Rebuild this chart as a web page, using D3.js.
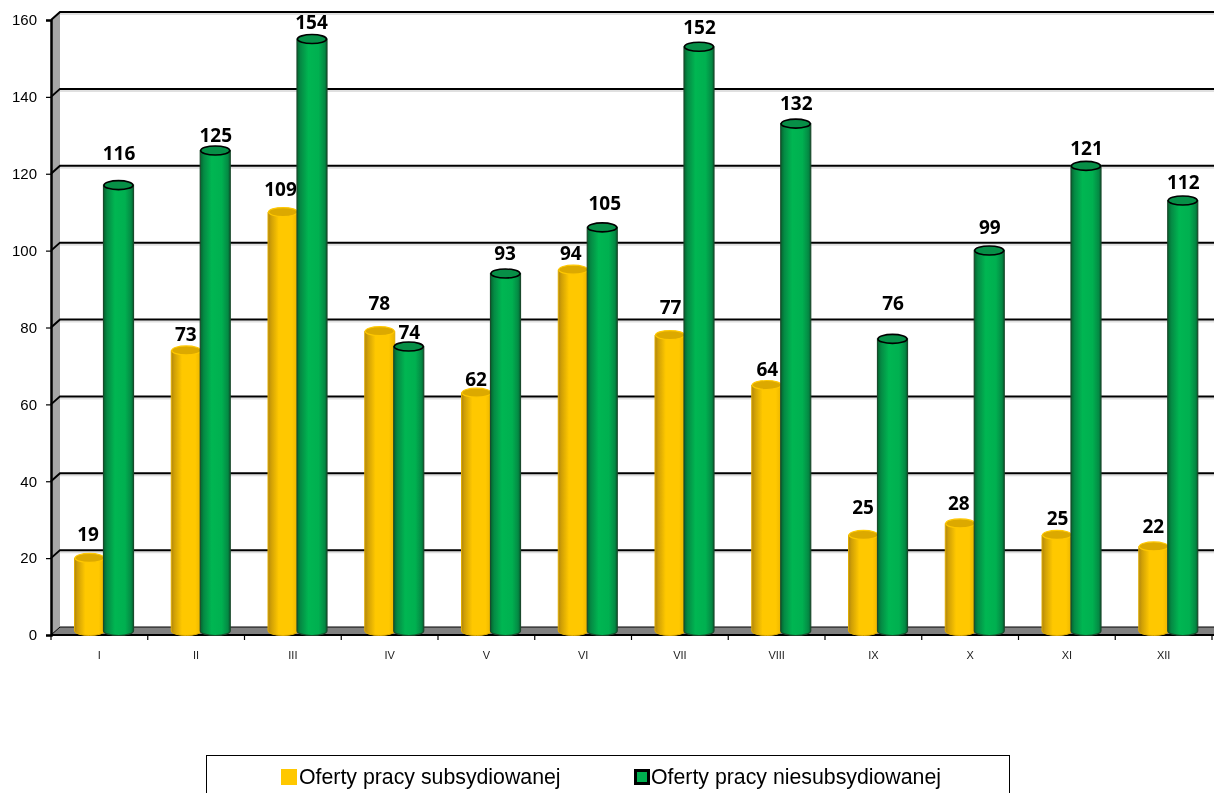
<!DOCTYPE html>
<html><head><meta charset="utf-8">
<script src="https://cdn.jsdelivr.net/npm/d3@7"></script>
<style>
html,body{margin:0;padding:0;background:#fff;overflow:hidden}
svg{display:block;filter:blur(.4px)}
</style></head><body>
<svg id="c" width="1214" height="793"></svg>
<script>
const months=["I","II","III","IV","V","VI","VII","VIII","IX","X","XI","XII"];
const seriesNames=["Oferty pracy subsydiowanej","Oferty pracy niesubsydiowanej"];
const subsidised=[19,73,109,78,62,94,77,64,25,28,25,22];
const unsubsidised=[116,125,154,74,93,105,152,132,76,99,121,112];
const yTicks=[0,20,40,60,80,100,120,140,160];
// layout only: how far each value label sits above its bar top (px), and its sideways nudge
const liftA=[17,9,16,21,7,10,21,9,21,13,10,13];
const liftB=[25,9,10,8,14,17,13,14,29,16,11,12];
const nudgeA=[-1,0,-2,0,0,-2,1,1,0,-1,1,0];
const nudgeB=[1,1,0,1,0,3,1,1,1,1,1,1];

const svg=d3.select("#c");
const y=d3.scaleLinear().domain([0,160]).range([635,20]);
const x=d3.scaleBand().domain(months).range([51,1212]);
const inner=d3.scaleBand().domain(seriesNames).range([23.5,81.5]);
const dx=9,dy=8;

const defs=svg.append("defs");
function grad(id,stops){
  const g=defs.append("linearGradient").attr("id",id).attr("x1",0).attr("x2",1).attr("y1",0).attr("y2",0);
  stops.forEach(s=>g.append("stop").attr("offset",s[0]).attr("stop-color",s[1]));
}
grad("gy",[[0,"#b08510"],[.1,"#cf9f06"],[.36,"#ffc800"],[.8,"#ffc800"],[1,"#eab400"]]);
grad("gg",[[0,"#04642f"],[.12,"#058a44"],[.38,"#00b652"],[.72,"#00b050"],[.92,"#048a44"],[1,"#03602f"]]);

// walls
const right=1214,x0=51;
svg.append("polygon").attr("fill","#a6a6a6")
  .attr("points",[[x0,y(0)],[x0,y(160)],[x0+dx,y(160)-dy],[x0+dx,y(0)-dy]].join(" "));
svg.append("polygon").attr("fill","#808080")
  .attr("points",[[x0,y(0)],[x0+dx,y(0)-dy],[right,y(0)-dy],[right,y(0)]].join(" "));

// gridlines
const grid=svg.append("g");
yTicks.forEach(v=>{
  if(v>0) grid.append("path").attr("fill","none").attr("stroke","#e0e0e0").attr("stroke-width",2)
    .attr("d",`M${x0+dx},${y(v)-dy+2}H${right}`);
  grid.append("path").attr("fill","none").attr("stroke","#000").attr("stroke-width",v===0?1:2)
    .attr("d",`M${x0},${y(v)}L${x0+dx},${y(v)-dy}H${right}`);
});

// axes
const yAxis=d3.axisLeft(y).tickValues(yTicks).tickSize(5).tickPadding(9);
const gy=svg.append("g").attr("transform",`translate(${x0},0)`).call(yAxis);
gy.select(".domain").attr("stroke","#000").attr("stroke-width",2.5);
gy.selectAll(".tick line").attr("stroke","#000").attr("stroke-width",1.2);
gy.selectAll("text").attr("font-family","Liberation Sans").attr("font-size",15).attr("fill","#000");

const xAxis=d3.axisBottom(x).tickSize(0).tickPadding(16);
const gx=svg.append("g").attr("transform",`translate(0,${y(0)})`).call(xAxis);
gx.select(".domain").attr("stroke","#000").attr("stroke-width",2).attr("d",`M${x0},0H${right}`);
gx.selectAll("text").attr("font-family","Liberation Sans").attr("font-size",11).attr("fill","#222");
const bandEdges=months.map(m=>x(m)).concat([x.range()[1]]);
svg.append("g").selectAll("line").data(bandEdges).join("line")
  .attr("x1",d=>d).attr("x2",d=>d).attr("y1",y(0)).attr("y2",y(0)+5)
  .attr("stroke","#000").attr("stroke-width",1.2);

// cylinders
const ry=4.5, lift=4;
function cyl(g,m,v,name,fill,top,rim,edge,edgeW){
  const l=x(m)+inner(name), w=inner.bandwidth()+1, rx=w/2;
  const t=y(v)-lift, b=y(0)-lift;
  g.append("path").attr("fill",`url(#${fill})`).attr("stroke",edge).attr("stroke-width",edgeW)
    .attr("d",`M${l},${t}V${b}A${rx},${ry} 0 0 0 ${l+w},${b}V${t}Z`);
  g.append("ellipse").attr("cx",l+rx).attr("cy",t).attr("rx",rx-.5).attr("ry",ry)
    .attr("fill",top).attr("stroke",rim).attr("stroke-width",edgeW===1?1.2:1.6);
}
const bars=svg.append("g");
months.forEach((m,i)=>{
  cyl(bars,m,subsidised[i],seriesNames[0],"gy","#dca900","#ffc800","#e0ac00",1);
  cyl(bars,m,unsubsidised[i],seriesNames[1],"gg","#078f47","#000","#1a4a2c",1.2);
});

// value labels
function labels(vals,name,liftArr,nudge){
  svg.append("g").selectAll("text").data(vals).join("text")
    .attr("x",(d,i)=>x(months[i])+inner(name)+inner.bandwidth()/2+nudge[i])
    .attr("y",(d,i)=>y(d)-lift-liftArr[i])
    .attr("text-anchor","middle")
    .attr("font-family","Open Sans").attr("font-weight",700).attr("font-size",19).attr("fill","#000")
    .text(d=>d);
}
labels(subsidised,seriesNames[0],liftA,nudgeA);
labels(unsubsidised,seriesNames[1],liftB,nudgeB);

// legend
const lg=svg.append("g");
lg.append("rect").attr("x",206.5).attr("y",755.5).attr("width",803).attr("height",60)
  .attr("fill","#fff").attr("stroke","#000").attr("stroke-width",1);
const swatchX=d3.scaleOrdinal().domain(seriesNames).range([281,634]);
seriesNames.forEach((n,i)=>{
  const sx=swatchX(n);
  lg.append("rect").attr("x",sx+(i?1.5:0)).attr("y",769+(i?1.5:0)).attr("width",i?13:16).attr("height",i?13:16)
    .attr("fill",i?"#00b050":"#ffc800").attr("stroke",i?"#000":"none").attr("stroke-width",i?3:0);
  lg.append("text").attr("x",sx+(i?17:18)).attr("y",783.5)
    .attr("font-family","Liberation Sans").attr("font-size",21.3).attr("fill","#000").text(n);
});
</script>
</body></html>
